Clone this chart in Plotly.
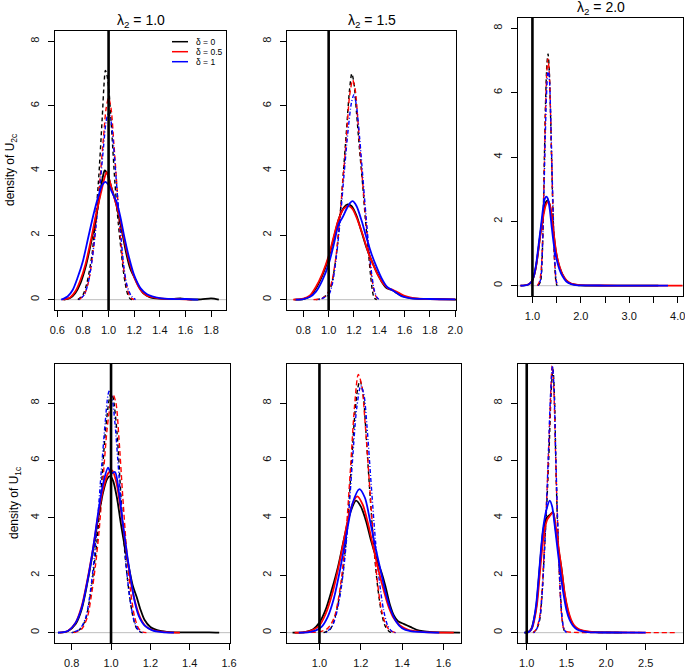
import plotly.graph_objects as go

W, H = 685, 671

# ---------------- data ----------------
# Panel 1: density of U2c, lambda2 = 1.0
p1_solid_d0_x = [0.65, 0.70, 0.74, 0.78, 0.82, 0.86, 0.90, 0.93, 0.955, 0.97, 0.99, 1.02, 1.05, 1.08, 1.11, 1.14, 1.17, 1.20, 1.23, 1.27, 1.32, 1.40, 1.50, 1.56, 1.62, 1.72, 1.80, 1.86]
p1_solid_d0_y = [0.0, 0.05, 0.2, 0.5, 1.0, 1.7, 2.5, 3.2, 3.8, 4.0, 3.9, 3.5, 3.1, 2.6, 2.0, 1.4, 0.95, 0.7, 0.45, 0.2, 0.08, 0.03, 0.02, 0.04, 0.01, 0.01, 0.04, 0.0]
p1_solid_d05_x = [0.64, 0.70, 0.74, 0.78, 0.82, 0.86, 0.90, 0.94, 0.97, 0.985, 1.00, 1.03, 1.06, 1.09, 1.12, 1.16, 1.20, 1.25, 1.30, 1.40, 1.50, 1.60, 1.65]
p1_solid_d05_y = [0.0, 0.07, 0.25, 0.6, 1.1, 1.8, 2.6, 3.3, 3.8, 3.95, 3.8, 3.35, 2.95, 2.5, 1.9, 1.2, 0.7, 0.3, 0.12, 0.04, 0.02, 0.01, 0.0]
p1_solid_d1_x = [0.63, 0.68, 0.72, 0.76, 0.80, 0.84, 0.88, 0.92, 0.95, 0.975, 1.00, 1.03, 1.06, 1.09, 1.12, 1.16, 1.20, 1.25, 1.30, 1.40, 1.50, 1.60, 1.70]
p1_solid_d1_y = [0.0, 0.1, 0.3, 0.7, 1.2, 1.9, 2.6, 3.2, 3.55, 3.65, 3.55, 3.3, 3.05, 2.6, 2.0, 1.3, 0.75, 0.35, 0.17, 0.05, 0.02, 0.02, 0.0]
p1_dash_d0_x = [0.76, 0.80, 0.83, 0.855, 0.874, 0.90, 0.92, 0.95, 0.965, 0.975, 0.985, 1.00, 1.02, 1.05, 1.075, 1.098, 1.115, 1.13, 1.15, 1.17, 1.19]
p1_dash_d0_y = [0.0, 0.15, 0.5, 1.0, 1.5, 2.6, 3.6, 5.6, 6.7, 7.1, 7.0, 6.6, 5.5, 3.6, 2.4, 1.5, 0.9, 0.5, 0.15, 0.02, 0.0]
p1_dash_d05_x = [0.77, 0.81, 0.84, 0.87, 0.90, 0.93, 0.96, 0.98, 1.00, 1.02, 1.04, 1.06, 1.08, 1.10, 1.12, 1.14, 1.16, 1.18, 1.20]
p1_dash_d05_y = [0.0, 0.15, 0.5, 1.2, 2.3, 3.6, 5.0, 5.9, 6.25, 5.9, 4.9, 3.8, 2.6, 1.6, 0.9, 0.45, 0.15, 0.04, 0.0]
p1_dash_d1_x = [0.77, 0.81, 0.84, 0.87, 0.90, 0.93, 0.96, 0.98, 1.00, 1.02, 1.04, 1.06, 1.08, 1.10, 1.12, 1.14, 1.16, 1.18, 1.21]
p1_dash_d1_y = [0.0, 0.15, 0.5, 1.2, 2.2, 3.4, 4.7, 5.5, 5.8, 5.5, 4.7, 3.7, 2.7, 1.8, 1.0, 0.5, 0.25, 0.1, 0.0]

# Panel 2: density of U2c, lambda2 = 1.5
p2_solid_d0_x = [0.73, 0.80, 0.85, 0.90, 0.95, 1.00, 1.04, 1.08, 1.12, 1.15, 1.18, 1.22, 1.26, 1.30, 1.34, 1.38, 1.42, 1.46, 1.50, 1.54, 1.58, 1.65, 1.75, 1.85, 1.95, 2.01]
p2_solid_d0_y = [0.0, 0.02, 0.1, 0.35, 0.75, 1.3, 1.9, 2.5, 2.85, 2.95, 2.9, 2.6, 2.1, 1.6, 1.2, 0.85, 0.55, 0.35, 0.3, 0.2, 0.12, 0.05, 0.02, 0.02, 0.01, 0.0]
p2_solid_d05_x = [0.72, 0.80, 0.85, 0.90, 0.95, 1.00, 1.04, 1.08, 1.12, 1.16, 1.19, 1.23, 1.27, 1.31, 1.35, 1.39, 1.43, 1.47, 1.51, 1.55, 1.60, 1.67, 1.80, 2.00]
p2_solid_d05_y = [0.0, 0.03, 0.12, 0.4, 0.8, 1.35, 1.95, 2.5, 2.82, 2.9, 2.8, 2.45, 2.0, 1.5, 1.1, 0.75, 0.5, 0.35, 0.3, 0.22, 0.12, 0.05, 0.02, 0.01]
p2_solid_d1_x = [0.74, 0.80, 0.85, 0.90, 0.95, 1.00, 1.04, 1.08, 1.11, 1.14, 1.17, 1.19, 1.22, 1.26, 1.30, 1.34, 1.38, 1.42, 1.46, 1.50, 1.54, 1.58, 1.65, 1.80, 2.00]
p2_solid_d1_y = [0.0, 0.02, 0.08, 0.25, 0.6, 1.1, 1.7, 2.35, 2.55, 2.8, 3.0, 3.05, 2.9, 2.45, 1.9, 1.4, 1.0, 0.65, 0.4, 0.3, 0.2, 0.1, 0.04, 0.02, 0.01]
p2_dash_d0_x = [0.90, 0.95, 1.00, 1.03, 1.064, 1.09, 1.11, 1.14, 1.165, 1.183, 1.20, 1.22, 1.245, 1.27, 1.29, 1.314, 1.33, 1.345, 1.36, 1.38]
p2_dash_d0_y = [0.0, 0.05, 0.2, 0.6, 1.5, 2.6, 3.6, 5.2, 6.5, 7.0, 6.7, 5.8, 4.6, 3.5, 2.5, 1.5, 0.8, 0.3, 0.05, 0.0]
p2_dash_d05_x = [0.88, 0.95, 1.00, 1.03, 1.06, 1.09, 1.115, 1.14, 1.165, 1.19, 1.21, 1.23, 1.255, 1.28, 1.30, 1.32, 1.34, 1.36, 1.38, 1.41]
p2_dash_d05_y = [0.0, 0.04, 0.25, 0.65, 1.4, 2.6, 3.8, 5.0, 6.3, 6.8, 6.5, 5.6, 4.3, 3.1, 2.2, 1.4, 0.7, 0.25, 0.06, 0.0]
p2_dash_d1_x = [0.92, 1.00, 1.03, 1.06, 1.09, 1.12, 1.15, 1.18, 1.20, 1.22, 1.245, 1.27, 1.295, 1.32, 1.34, 1.36, 1.38, 1.40]
p2_dash_d1_y = [0.0, 0.15, 0.5, 1.3, 2.4, 3.8, 5.1, 6.1, 6.35, 6.0, 5.0, 3.8, 2.6, 1.5, 0.8, 0.3, 0.08, 0.0]

# Panel 3: density of U2c, lambda2 = 2.0
p3_solid_d0_x = [0.76, 0.90, 0.98, 1.03, 1.08, 1.13, 1.18, 1.23, 1.28, 1.32, 1.36, 1.40, 1.44, 1.48, 1.52, 1.56, 1.62, 1.70, 1.80, 1.90, 2.00, 2.50, 3.00, 3.60]
p3_solid_d0_y = [0.0, 0.03, 0.1, 0.3, 0.65, 1.2, 1.8, 2.3, 2.6, 2.65, 2.5, 2.1, 1.6, 1.1, 0.8, 0.57, 0.35, 0.16, 0.06, 0.03, 0.01, 0.005, 0.003, 0.0]
p3_solid_d05_x = [0.75, 0.90, 0.98, 1.03, 1.08, 1.13, 1.18, 1.23, 1.28, 1.33, 1.37, 1.41, 1.45, 1.49, 1.53, 1.57, 1.62, 1.70, 1.80, 1.90, 2.00, 2.50, 3.00, 3.50, 4.10]
p3_solid_d05_y = [0.0, 0.03, 0.12, 0.3, 0.65, 1.2, 1.75, 2.2, 2.52, 2.62, 2.45, 2.0, 1.5, 1.05, 0.75, 0.55, 0.35, 0.17, 0.07, 0.03, 0.015, 0.006, 0.004, 0.003, 0.002]
p3_solid_d1_x = [0.75, 0.85, 0.92, 0.98, 1.03, 1.08, 1.13, 1.18, 1.22, 1.26, 1.29, 1.32, 1.36, 1.40, 1.44, 1.48, 1.52, 1.56, 1.62, 1.70, 1.80, 1.90, 2.00, 2.50, 3.00, 3.80]
p3_solid_d1_y = [0.0, 0.01, 0.04, 0.12, 0.3, 0.7, 1.3, 1.9, 2.4, 2.72, 2.77, 2.7, 2.35, 1.8, 1.3, 0.95, 0.7, 0.5, 0.3, 0.13, 0.05, 0.02, 0.01, 0.005, 0.003, 0.0]
p3_dash_d0_x = [1.12, 1.17, 1.20, 1.225, 1.25, 1.275, 1.30, 1.323, 1.345, 1.37, 1.395, 1.42, 1.445, 1.47, 1.49, 1.51]
p3_dash_d0_y = [0.0, 0.15, 0.8, 2.3, 4.2, 5.9, 6.9, 7.2, 6.8, 5.6, 4.0, 2.5, 1.2, 0.4, 0.08, 0.0]
p3_dash_d05_x = [1.10, 1.15, 1.19, 1.22, 1.25, 1.275, 1.30, 1.32, 1.345, 1.37, 1.395, 1.42, 1.445, 1.47, 1.50, 1.53]
p3_dash_d05_y = [0.0, 0.15, 0.7, 2.0, 4.0, 5.7, 6.7, 7.05, 6.7, 5.6, 4.1, 2.6, 1.3, 0.45, 0.08, 0.0]
p3_dash_d1_x = [1.12, 1.17, 1.20, 1.23, 1.26, 1.29, 1.315, 1.33, 1.355, 1.38, 1.405, 1.43, 1.455, 1.48, 1.50, 1.53]
p3_dash_d1_y = [0.0, 0.2, 0.9, 2.4, 4.3, 5.9, 6.6, 6.7, 6.3, 5.1, 3.6, 2.2, 1.0, 0.35, 0.1, 0.0]

# Panel 4: density of U1c, lambda2 = 1.0
p4_solid_d0_x = [0.73, 0.78, 0.82, 0.85, 0.88, 0.91, 0.935, 0.96, 0.98, 0.995, 1.01, 1.03, 1.05, 1.07, 1.09, 1.11, 1.13, 1.15, 1.17, 1.20, 1.25, 1.30, 1.40, 1.50, 1.55]
p4_solid_d0_y = [0.0, 0.05, 0.3, 0.8, 1.75, 2.9, 4.0, 4.9, 5.35, 5.45, 5.3, 4.7, 3.8, 3.0, 2.3, 1.65, 1.25, 0.8, 0.45, 0.2, 0.06, 0.02, 0.01, 0.01, 0.0]
p4_solid_d05_x = [0.74, 0.78, 0.82, 0.85, 0.88, 0.91, 0.935, 0.96, 0.985, 1.005, 1.025, 1.045, 1.065, 1.085, 1.105, 1.125, 1.15, 1.18, 1.22, 1.28, 1.35]
p4_solid_d05_y = [0.0, 0.06, 0.35, 0.9, 1.85, 3.0, 4.1, 5.0, 5.55, 5.65, 5.3, 4.5, 3.5, 2.5, 1.6, 1.0, 0.5, 0.2, 0.07, 0.02, 0.0]
p4_solid_d1_x = [0.73, 0.78, 0.82, 0.85, 0.88, 0.91, 0.935, 0.96, 0.985, 1.00, 1.02, 1.04, 1.06, 1.08, 1.10, 1.12, 1.14, 1.17, 1.21, 1.26, 1.32]
p4_solid_d1_y = [0.0, 0.06, 0.35, 0.85, 1.8, 3.0, 4.2, 5.2, 5.75, 5.55, 5.6, 4.9, 3.8, 2.8, 1.9, 1.1, 0.6, 0.25, 0.08, 0.02, 0.0]
p4_dash_d0_x = [0.80, 0.84, 0.87, 0.89, 0.91, 0.93, 0.95, 0.97, 0.99, 1.00, 1.01, 1.03, 1.05, 1.07, 1.09, 1.11, 1.13, 1.15, 1.17]
p4_dash_d0_y = [0.0, 0.1, 0.45, 1.1, 2.1, 3.3, 5.0, 6.9, 8.1, 8.35, 8.2, 7.0, 4.8, 2.8, 1.5, 0.6, 0.15, 0.02, 0.0]
p4_dash_d05_x = [0.81, 0.85, 0.88, 0.90, 0.92, 0.94, 0.96, 0.98, 1.00, 1.01, 1.025, 1.04, 1.06, 1.08, 1.10, 1.12, 1.14, 1.16, 1.18]
p4_dash_d05_y = [0.0, 0.12, 0.55, 1.3, 2.3, 3.6, 5.4, 7.1, 8.1, 8.3, 8.0, 6.8, 4.7, 2.8, 1.4, 0.55, 0.15, 0.03, 0.0]
p4_dash_d1_x = [0.80, 0.84, 0.87, 0.89, 0.91, 0.93, 0.95, 0.97, 0.985, 0.993, 1.005, 1.02, 1.04, 1.06, 1.08, 1.10, 1.12, 1.14, 1.16]
p4_dash_d1_y = [0.0, 0.12, 0.5, 1.2, 2.3, 3.8, 5.6, 7.3, 8.3, 8.45, 8.2, 7.3, 5.5, 3.7, 2.1, 1.0, 0.35, 0.08, 0.0]

# Panel 5: density of U1c, lambda2 = 1.5
p5_solid_d0_x = [0.87, 0.93, 0.97, 1.00, 1.03, 1.06, 1.09, 1.12, 1.15, 1.177, 1.20, 1.225, 1.25, 1.275, 1.30, 1.32, 1.34, 1.36, 1.38, 1.41, 1.44, 1.47, 1.50, 1.55, 1.60, 1.68]
p5_solid_d0_y = [0.0, 0.02, 0.12, 0.35, 0.8, 1.5, 2.3, 3.3, 4.2, 4.6, 4.4, 3.9, 3.2, 2.6, 2.1, 1.6, 1.0, 0.6, 0.4, 0.3, 0.2, 0.1, 0.05, 0.02, 0.01, 0.0]
p5_solid_d05_x = [0.88, 0.93, 0.97, 1.00, 1.03, 1.06, 1.09, 1.12, 1.15, 1.183, 1.21, 1.235, 1.26, 1.285, 1.31, 1.335, 1.36, 1.39, 1.43, 1.48, 1.55, 1.65]
p5_solid_d05_y = [0.0, 0.02, 0.1, 0.25, 0.65, 1.3, 2.2, 3.3, 4.3, 4.75, 4.45, 3.8, 3.0, 2.2, 1.5, 0.9, 0.5, 0.25, 0.1, 0.04, 0.01, 0.0]
p5_solid_d1_x = [0.90, 0.95, 0.98, 1.01, 1.04, 1.07, 1.10, 1.13, 1.16, 1.193, 1.22, 1.245, 1.27, 1.295, 1.32, 1.345, 1.37, 1.40, 1.44, 1.50, 1.58]
p5_solid_d1_y = [0.0, 0.02, 0.07, 0.2, 0.55, 1.2, 2.2, 3.4, 4.5, 5.0, 4.7, 3.9, 3.0, 2.2, 1.4, 0.8, 0.4, 0.15, 0.05, 0.02, 0.0]
p5_dash_d0_x = [1.02, 1.05, 1.07, 1.09, 1.11, 1.13, 1.15, 1.17, 1.185, 1.196, 1.21, 1.225, 1.24, 1.26, 1.28, 1.30, 1.32, 1.34, 1.36]
p5_dash_d0_y = [0.0, 0.1, 0.4, 1.0, 1.9, 3.3, 5.3, 7.5, 8.5, 8.78, 8.4, 7.0, 5.3, 3.3, 1.7, 0.7, 0.2, 0.03, 0.0]
p5_dash_d05_x = [0.88, 0.95, 1.00, 1.04, 1.07, 1.09, 1.11, 1.13, 1.15, 1.17, 1.188, 1.205, 1.22, 1.24, 1.26, 1.28, 1.30, 1.32, 1.34, 1.37]
p5_dash_d05_y = [0.0, 0.01, 0.03, 0.15, 0.5, 1.1, 2.1, 3.6, 5.7, 7.9, 9.0, 8.6, 7.4, 5.4, 3.4, 1.8, 0.8, 0.3, 0.08, 0.0]
p5_dash_d1_x = [1.03, 1.06, 1.08, 1.10, 1.12, 1.14, 1.16, 1.18, 1.20, 1.215, 1.23, 1.25, 1.27, 1.29, 1.31, 1.33, 1.35, 1.37]
p5_dash_d1_y = [0.0, 0.2, 0.6, 1.3, 2.4, 4.0, 6.0, 7.8, 8.6, 8.3, 7.2, 5.2, 3.3, 1.8, 0.8, 0.25, 0.05, 0.0]

# Panel 6: density of U1c, lambda2 = 2.0
p6_solid_d0_x = [0.97, 1.02, 1.06, 1.09, 1.12, 1.15, 1.18, 1.21, 1.25, 1.29, 1.332, 1.36, 1.40, 1.44, 1.48, 1.52, 1.56, 1.60, 1.66, 1.75, 1.85, 2.00, 2.20]
p6_solid_d0_y = [0.0, 0.02, 0.15, 0.45, 0.9, 1.8, 2.8, 3.6, 4.0, 4.1, 4.2, 3.7, 2.9, 2.2, 1.3, 0.75, 0.4, 0.22, 0.1, 0.04, 0.02, 0.01, 0.0]
p6_solid_d05_x = [0.98, 1.03, 1.07, 1.10, 1.13, 1.16, 1.19, 1.22, 1.26, 1.30, 1.33, 1.36, 1.40, 1.44, 1.48, 1.52, 1.56, 1.60, 1.66, 1.75, 1.85, 2.00, 2.50]
p6_solid_d05_y = [0.0, 0.03, 0.18, 0.5, 1.0, 1.9, 2.8, 3.5, 3.95, 4.1, 4.2, 3.8, 3.0, 2.2, 1.35, 0.8, 0.45, 0.25, 0.12, 0.05, 0.02, 0.01, 0.0]
p6_solid_d1_x = [0.97, 1.02, 1.06, 1.09, 1.12, 1.15, 1.18, 1.21, 1.25, 1.29, 1.32, 1.35, 1.38, 1.42, 1.46, 1.50, 1.54, 1.58, 1.64, 1.72, 1.85, 2.00, 2.50]
p6_solid_d1_y = [0.0, 0.02, 0.12, 0.45, 1.0, 1.9, 2.9, 3.7, 4.3, 4.6, 4.4, 3.8, 3.1, 2.2, 1.4, 0.8, 0.45, 0.25, 0.1, 0.04, 0.01, 0.005, 0.0]
p6_dash_d0_x = [1.08, 1.12, 1.16, 1.19, 1.21, 1.235, 1.26, 1.285, 1.305, 1.33, 1.35, 1.365, 1.38, 1.40, 1.42, 1.44, 1.46, 1.48, 1.50]
p6_dash_d0_y = [0.0, 0.1, 0.4, 1.2, 2.2, 3.5, 4.9, 6.6, 8.2, 9.2, 8.2, 6.2, 4.5, 2.9, 1.6, 0.7, 0.2, 0.03, 0.0]
p6_dash_d05_x = [1.08, 1.12, 1.16, 1.19, 1.21, 1.235, 1.26, 1.285, 1.305, 1.32, 1.34, 1.36, 1.38, 1.40, 1.42, 1.44, 1.46, 1.49, 1.60, 2.00, 2.50, 2.90]
p6_dash_d05_y = [0.0, 0.12, 0.5, 1.3, 2.3, 3.7, 5.2, 7.0, 8.5, 9.3, 8.6, 6.6, 4.6, 2.9, 1.5, 0.6, 0.2, 0.05, 0.01, 0.005, 0.003, 0.0]
p6_dash_d1_x = [1.09, 1.13, 1.17, 1.20, 1.225, 1.25, 1.275, 1.30, 1.325, 1.345, 1.365, 1.385, 1.405, 1.425, 1.445, 1.47, 1.50]
p6_dash_d1_y = [0.0, 0.15, 0.6, 1.6, 2.9, 4.5, 6.4, 8.3, 9.3, 8.4, 6.3, 4.3, 2.6, 1.3, 0.5, 0.12, 0.0]

# axis ticks / labels
p1_xticks = [0.6, 0.8, 1.0, 1.2, 1.4, 1.6, 1.8]
p2_xticks = [0.8, 1.0, 1.2, 1.4, 1.6, 1.8, 2.0]
p3_xticks = [1.0, 2.0, 3.0, 4.0]
p3_minor_xticks = [1.5, 2.5, 3.5]
p4_xticks = [0.8, 1.0, 1.2, 1.4, 1.6]
p5_xticks = [1.0, 1.2, 1.4, 1.6]
p6_xticks = [1.0, 1.5, 2.0, 2.5]
yticks = [0, 2, 4, 6, 8]
delta_labels = ["δ = 0", "δ = 0.5", "δ = 1"]
colors = ["#000000", "#FF0000", "#0000FF"]
dash_styles = ["4px,3px", "5px,3px", "1px,2px,4px,2px"]
titles = ["λ<sub>2</sub> = 1.0", "λ<sub>2</sub> = 1.5", "λ<sub>2</sub> = 2.0"]
ylabels = ["density of U<sub>2c</sub>", "density of U<sub>1c</sub>"]
ref_value = 1.0

# ---------------- layout geometry (pixels) ----------------
panels = [
    dict(box=(55, 226, 31, 310), xr=[0.582, 1.916], yr=[-0.32, 8.32], xt=p1_xticks, minor=None,
         solid=[(p1_solid_d0_x, p1_solid_d0_y), (p1_solid_d05_x, p1_solid_d05_y), (p1_solid_d1_x, p1_solid_d1_y)],
         dash=[(p1_dash_d0_x, p1_dash_d0_y), (p1_dash_d05_x, p1_dash_d05_y), (p1_dash_d1_x, p1_dash_d1_y)]),
    dict(box=(287, 456, 31, 310), xr=[0.671, 2.006], yr=[-0.32, 8.32], xt=p2_xticks, minor=None,
         solid=[(p2_solid_d0_x, p2_solid_d0_y), (p2_solid_d05_x, p2_solid_d05_y), (p2_solid_d1_x, p2_solid_d1_y)],
         dash=[(p2_dash_d0_x, p2_dash_d0_y), (p2_dash_d05_x, p2_dash_d05_y), (p2_dash_d1_x, p2_dash_d1_y)]),
    dict(box=(518, 683, 18, 296), xr=[0.702, 4.11], yr=[-0.32, 8.32], xt=p3_xticks, minor=p3_minor_xticks,
         solid=[(p3_solid_d0_x, p3_solid_d0_y), (p3_solid_d05_x, p3_solid_d05_y), (p3_solid_d1_x, p3_solid_d1_y)],
         dash=[(p3_dash_d0_x, p3_dash_d0_y), (p3_dash_d05_x, p3_dash_d05_y), (p3_dash_d1_x, p3_dash_d1_y)]),
    dict(box=(55, 230, 364, 643), xr=[0.715, 1.605], yr=[-0.36, 9.36], xt=p4_xticks, minor=None,
         solid=[(p4_solid_d0_x, p4_solid_d0_y), (p4_solid_d05_x, p4_solid_d05_y), (p4_solid_d1_x, p4_solid_d1_y)],
         dash=[(p4_dash_d0_x, p4_dash_d0_y), (p4_dash_d05_x, p4_dash_d05_y), (p4_dash_d1_x, p4_dash_d1_y)]),
    dict(box=(287, 461, 364, 643), xr=[0.843, 1.685], yr=[-0.36, 9.36], xt=p5_xticks, minor=None,
         solid=[(p5_solid_d0_x, p5_solid_d0_y), (p5_solid_d05_x, p5_solid_d05_y), (p5_solid_d1_x, p5_solid_d1_y)],
         dash=[(p5_dash_d0_x, p5_dash_d0_y), (p5_dash_d05_x, p5_dash_d05_y), (p5_dash_d1_x, p5_dash_d1_y)]),
    dict(box=(518, 683, 364, 643), xr=[0.89, 2.97], yr=[-0.36, 9.36], xt=p6_xticks, minor=None,
         solid=[(p6_solid_d0_x, p6_solid_d0_y), (p6_solid_d05_x, p6_solid_d05_y), (p6_solid_d1_x, p6_solid_d1_y)],
         dash=[(p6_dash_d0_x, p6_dash_d0_y), (p6_dash_d05_x, p6_dash_d05_y), (p6_dash_d1_x, p6_dash_d1_y)]),
]

FONT = "Liberation Sans, Arial, Helvetica, sans-serif"
fig = go.Figure()
layout = dict(
    width=W, height=H, margin=dict(l=0, r=0, t=0, b=0, pad=0), autosize=False,
    paper_bgcolor="white", plot_bgcolor="white", showlegend=False,
    font=dict(family=FONT, color="#000000", size=11),
)
shapes = []
annotations = []

for i, p in enumerate(panels):
    n = "" if i == 0 else str(i + 1)
    L, R, T, B = p["box"]
    xa, ya = "x" + n, "y" + n
    xaxis = dict(
        domain=[L / W, R / W], range=p["xr"], anchor=ya, automargin=False,
        tickvals=p["xt"], ticktext=[f"{v:.1f}" for v in p["xt"]], ticklabeloverflow="allow",
        ticklabelstandoff=4,
        showgrid=False, zeroline=False, showline=True, mirror=True, linecolor="#000000", linewidth=1,
        ticks="outside", ticklen=6, tickcolor="#000000", tickfont=dict(size=11, color="#111111"),
    )
    if p["minor"]:
        xaxis["minor"] = dict(tickvals=p["minor"], ticks="outside", ticklen=6, tickcolor="#000000", showgrid=False)
    layout["xaxis" + n] = xaxis
    layout["yaxis" + n] = dict(
        domain=[1 - B / H, 1 - T / H], range=p["yr"], anchor=xa, automargin=False,
        tickvals=yticks, ticktext=[str(v) for v in yticks], tickangle=-90, ticklabelstandoff=5,
        showgrid=False, zeroline=False, showline=True, mirror=True, linecolor="#000000", linewidth=1,
        ticks="outside", ticklen=6, tickcolor="#000000", tickfont=dict(size=11, color="#111111"),
    )
    # grey zero line
    shapes.append(dict(type="line", xref=xa + " domain", yref=ya, x0=0, x1=1, y0=0, y1=0,
                       line=dict(color="#BEBEBE", width=1), layer="below"))
    # dashed estimator
    for k, (xs, ys) in enumerate(p["dash"]):
        fig.add_trace(go.Scatter(x=xs, y=ys, mode="lines", xaxis=xa, yaxis=ya,
                                 line=dict(color=colors[k], width=1.4, dash=dash_styles[k], shape="spline", smoothing=0.8),
                                 hoverinfo="skip"))
    # solid estimator
    for k, (xs, ys) in enumerate(p["solid"]):
        fig.add_trace(go.Scatter(x=xs, y=ys, mode="lines", xaxis=xa, yaxis=ya,
                                 line=dict(color=colors[k], width=1.8, shape="spline", smoothing=0.8),
                                 hoverinfo="skip"))
    # reference vertical line
    shapes.append(dict(type="line", xref=xa, yref=ya + " domain", x0=ref_value, x1=ref_value, y0=0, y1=1,
                       line=dict(color="#000000", width=2.6), layer="above"))

# titles
title_pos = [(140.5, 21), (371.5, 21), (600.5, 8)]
for t, (cx, cy) in zip(titles, title_pos):
    annotations.append(dict(text=t, x=cx / W, y=1 - cy / H, xref="paper", yref="paper",
                            showarrow=False, xanchor="center", yanchor="middle",
                            font=dict(size=14, family=FONT, color="#000000")))
# y axis labels
for t, (cx, cy) in zip(ylabels, [(11, 170), (15, 503)]):
    annotations.append(dict(text=t, x=cx / W, y=1 - cy / H, xref="paper", yref="paper",
                            showarrow=False, xanchor="center", yanchor="middle", textangle=-90,
                            font=dict(size=12, family=FONT, color="#000000")))
# legend in top-left panel
for k, lab in enumerate(delta_labels):
    ly = 41.7 + 10 * k
    shapes.append(dict(type="line", xref="paper", yref="paper", x0=172 / W, x1=188 / W,
                       y0=1 - ly / H, y1=1 - ly / H, line=dict(color=colors[k], width=1.5)))
    annotations.append(dict(text=lab, x=194 / W, y=1 - ly / H, xref="paper", yref="paper",
                            showarrow=False, xanchor="left", yanchor="middle",
                            font=dict(size=8.5, family=FONT, color="#000000")))

layout["shapes"] = shapes
layout["annotations"] = annotations
fig.update_layout(**layout)
fig.write_html("out.html", config={"displayModeBar": False},
               post_script="document.body.style.margin='0px';document.body.style.padding='0px';")
